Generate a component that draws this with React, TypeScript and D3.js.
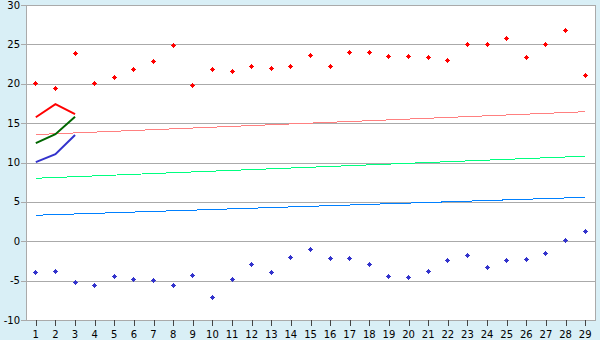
import React from "react";
import * as d3 from "d3";

const categories = Array.from({ length: 29 }, (_, i) => String(i + 1));
const yTicks = [-10, -5, 0, 5, 10, 15, 20, 25, 30];

const redPoints = [20.0, 19.4, 23.85, 20.0, 20.8, 21.8, 22.85, 24.9, 19.75, 21.8, 21.55, 22.2, 21.95, 22.2, 23.6, 22.2, 24.0, 24.0, 23.5, 23.45, 23.35, 22.95, 25.0, 25.0, 25.8, 23.35, 25.0, 26.8, 21.05];
const bluePoints = [-3.95, -3.8, -5.2, -5.6, -4.45, -4.85, -4.95, -5.6, -4.3, -7.1, -4.85, -2.95, -3.95, -2.05, -1.0, -2.15, -2.15, -2.95, -4.45, -4.6, -3.8, -2.4, -1.8, -3.3, -2.4, -2.3, -1.55, 0.1, 1.25];

const redLine = [15.75, 17.4, 16.15];
const greenLine = [12.45, 13.6, 15.8];
const blueLine = [10.05, 11.05, 13.5];

// trend lines: value at first and last category
const trendCats = ["1", "29"];
const pinkTrend = [13.55, 16.45];
const springTrend = [8.0, 10.8];
const azureTrend = [3.3, 5.58];

const W = 600, H = 340;
const L = 26, R = 595, T = 5, B = 320;

// marker: pixel plus — rows 1,3,5,3,1 wide
const marker =
  "M-0.5,-2.5H0.5V-1.5H1.5V-0.5H2.5V0.5H1.5V1.5H0.5V2.5H-0.5V1.5H-1.5V0.5H-2.5V-0.5H-1.5V-1.5H-0.5Z";

export default function App() {
  const x = d3.scaleBand<string>().domain(categories).range([L, R]);
  const cx = (c: string) => (x(c) as number) + x.bandwidth() / 2;
  const y = d3.scaleLinear().domain([-10, 30]).range([B, T]);
  const line = d3.line<[string, number]>().x(d => cx(d[0])).y(d => y(d[1]));
  const font = "'DejaVu Sans', Verdana, sans-serif";

  const zip = (vals: number[], cats: string[]) => vals.map((v, i) => [cats[i], v] as [string, number]);
  const px = (v: number) => Math.round(v - 0.5) + 0.5;

  return (
    <svg width={W} height={H} style={{ position: "absolute", left: 0, top: 0 }}>
      <rect x={0} y={0} width={W} height={H} fill="#d9eff6" />
      <rect x={L} y={T} width={R - L} height={B - T} fill="#ffffff" />
      {yTicks.map(t => (
        <g key={t}>
          <line x1={L} x2={R} y1={Math.round(y(t)) + 0.5} y2={Math.round(y(t)) + 0.5} stroke="#aaaaaa" strokeWidth={1} />
          <line x1={L - 5} x2={L} y1={Math.round(y(t)) + 0.5} y2={Math.round(y(t)) + 0.5} stroke="#aaaaaa" />
          <text x={L - 6} y={y(t)} dy="0.36em" textAnchor="end" fontFamily={font} fontSize={10} fill="#000">{t}</text>
        </g>
      ))}
      <line x1={L + 0.5} x2={L + 0.5} y1={T} y2={B + 1} stroke="#aaaaaa" />
      <line x1={R + 0.5} x2={R + 0.5} y1={T} y2={B + 1} stroke="#aaaaaa" />
      {categories.map(c => (
        <g key={c}>
          <line x1={Math.round(cx(c)) + 0.5} x2={Math.round(cx(c)) + 0.5} y1={B} y2={B + 6} stroke="#444" />
          <text x={cx(c)} y={338} textAnchor="middle" fontFamily={font} fontSize={10} fill="#000">{c}</text>
        </g>
      ))}
      <path d={line(zip(pinkTrend, trendCats)) || ""} fill="none" stroke="#ff8080" strokeWidth={1} shapeRendering="crispEdges" />
      <path d={line(zip(springTrend, trendCats)) || ""} fill="none" stroke="#00ff80" strokeWidth={1} shapeRendering="crispEdges" />
      <path d={line(zip(azureTrend, trendCats)) || ""} fill="none" stroke="#0080ff" strokeWidth={1} shapeRendering="crispEdges" />
      <path d={line(zip(redLine, categories)) || ""} fill="none" stroke="#ff0000" strokeWidth={2} />
      <path d={line(zip(greenLine, categories)) || ""} fill="none" stroke="#006600" strokeWidth={2} />
      <path d={line(zip(blueLine, categories)) || ""} fill="none" stroke="#3333cc" strokeWidth={2} />
      {redPoints.map((v, i) => (
        <path key={"r" + i} d={marker} transform={`translate(${px(cx(categories[i]))},${px(y(v))})`} fill="#ff0000" shapeRendering="crispEdges" />
      ))}
      {bluePoints.map((v, i) => (
        <path key={"b" + i} d={marker} transform={`translate(${px(cx(categories[i]))},${px(y(v))})`} fill="#3333cc" shapeRendering="crispEdges" />
      ))}
    </svg>
  );
}
